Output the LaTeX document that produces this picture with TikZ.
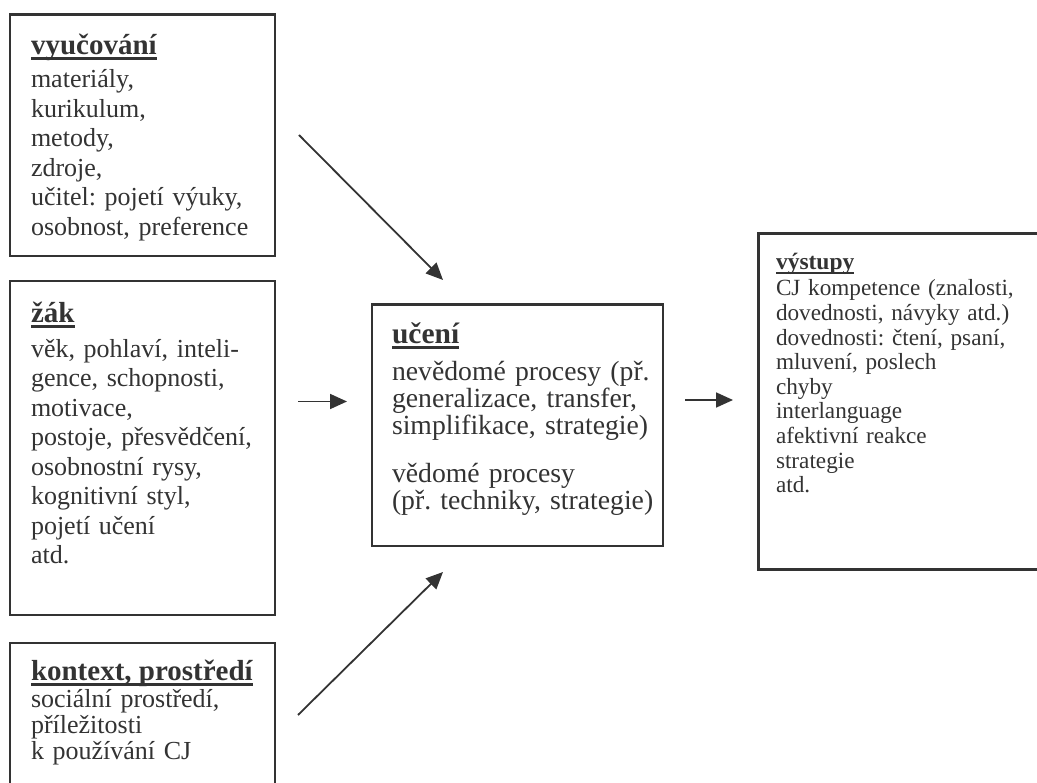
\documentclass[tikz,border=0pt]{standalone}
\usepackage{fontspec}
\setmainfont{Liberation Serif}
\usetikzlibrary{arrows.meta}
\definecolor{ink}{HTML}{333333}
\newcommand\ulttl[3]{\setbox0\hbox{#3}\rlap{\vrule height -#1 depth #2 width \wd0}\box0}
\newcommand\tightls{\lineskiplimit=-50pt\relax\frenchspacing}
\tikzset{
  frame/.style={draw=ink, line width=2.2pt, rectangle, inner sep=0pt, outer sep=0pt, anchor=north west},
  txt/.style={text=ink, inner sep=0pt, outer sep=0pt, anchor=base west, align=left},
  ttl/.style={txt, font=\fontsize{29}{29}\selectfont\bfseries},
  conn/.style={draw=ink, line width=1.8pt, -{Triangle[length=17pt,width=15pt]}},
}
\begin{document}
\begin{tikzpicture}[x=1pt,y=-1pt]
\useasboundingbox (0,0) rectangle (1037,783);
\clip (0,0) rectangle (1037,783);

% boxes
\node[frame, minimum width=265.3pt, minimum height=241.5pt] (vyuc) at (9.7,14.5) {};
\node[frame, minimum width=265.3pt, minimum height=333.7pt] (zak) at (9.7,281) {};
\node[frame, minimum width=265.3pt, minimum height=200pt] (kont) at (9.7,642.8) {};
\node[frame, minimum width=291.6pt, minimum height=241.5pt] (uceni) at (371.7,304.5) {};
\node[frame, minimum width=300pt, minimum height=336pt] (vyst) at (758.5,233.5) {};

% vyucovani
\node[ttl] (vyuc-t) at (31,55) {\ulttl{2.5pt}{5.5pt}{vyučování}};
\node[txt, text width=300pt, font=\fontsize{26}{29.5}\selectfont\tightls] (vyuc-b) at (31,88)
  {materiály,\\ kurikulum,\\ metody,\\ zdroje,\\ učitel: pojetí výuky,\\ osobnost, preference};

% zak
\node[ttl] (zak-t) at (31,323) {\ulttl{2.5pt}{5.5pt}{žák}};
\node[txt, text width=300pt, font=\fontsize{26}{29.5}\selectfont\tightls] (zak-b) at (31,357.5)
  {věk, pohlaví, inteli-\\ gence, schopnosti,\\ motivace,\\ postoje, přesvědčení,\\ osobnostní rysy,\\ kognitivní styl,\\ pojetí učení\\ atd.};

% kontext
\node[ttl] (kont-t) at (31,680) {\ulttl{2.5pt}{5.5pt}{kontext, prostředí}};
\node[txt, text width=300pt, font=\fontsize{26}{26}\selectfont\tightls] (kont-b) at (31,707)
  {sociální prostředí,\\ příležitosti\\ k používání CJ};

% uceni
\node[txt, font=\fontsize{29.5}{29.5}\selectfont\bfseries] (uceni-t) at (392,344) {\ulttl{2.5pt}{5.5pt}{učení}};
\node[txt, text width=300pt, font=\fontsize{27.7}{27}\selectfont\tightls] (uceni-b) at (392,381)
  {nevědomé procesy (př.\\ generalizace, transfer,\\ simplifikace, strategie)\\[21pt] vědomé procesy\\ (př. techniky, strategie)};

% vystupy
\node[txt, font=\fontsize{23.5}{23.5}\selectfont\bfseries] (vyst-t) at (776,270) {\ulttl{2pt}{4.2pt}{výstupy}};
\node[txt, text width=300pt, font=\fontsize{23.2}{24.6}\selectfont\tightls] (vyst-b) at (776,296)
  {CJ kompetence (znalosti,\\ dovednosti, návyky atd.)\\ dovednosti: čtení, psaní,\\ mluvení, poslech\\ chyby\\ interlanguage\\ afektivní reakce\\ strategie\\ atd.};

% arrows
\coordinate (a1s) at (299,135);
\coordinate (a1e) at (443,280);
\coordinate (a2s) at (298,401.5);
\coordinate (a2e) at (347,401.5);
\coordinate (a3s) at (298,715);
\coordinate (a3e) at (443,572);
\coordinate (a4s) at (685,400);
\coordinate (a4e) at (733,400);
\draw[conn] (a1s) -- (a1e);
\draw[conn] (a2s) -- (a2e);
\draw[conn] (a3s) -- (a3e);
\draw[conn] (a4s) -- (a4e);
\end{tikzpicture}
\end{document}
